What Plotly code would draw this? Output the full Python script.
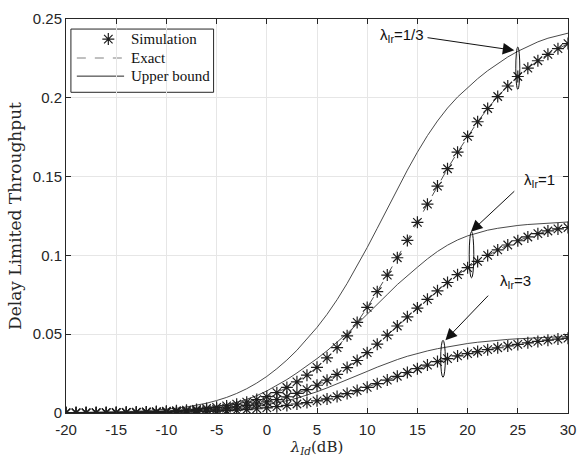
import plotly.graph_objects as go

# SNR axis (dB), one point per dB
snr_db = list(range(-20, 31))

# Simulated delay-limited throughput for each lambda_Ir
sim_lr_third = [0.0001, 0.0001, 0.0001, 0.0002, 0.0002, 0.0003, 0.0004, 0.0005, 0.0007, 0.0009,
                0.0011, 0.0014, 0.0018, 0.0023, 0.0029, 0.0036, 0.0045, 0.0056, 0.0069, 0.0085,
                0.0104, 0.0129, 0.0162, 0.0198, 0.0240, 0.0290, 0.0350, 0.0415, 0.0490, 0.0575,
                0.0670, 0.0770, 0.0875, 0.0985, 0.1095, 0.1210, 0.1325, 0.1440, 0.1550, 0.1655,
                0.1755, 0.1848, 0.1932, 0.2008, 0.2075, 0.2135, 0.2188, 0.2235, 0.2276, 0.2312,
                0.2344]
sim_lr_one = [0.0001, 0.0001, 0.0001, 0.0001, 0.0002, 0.0002, 0.0003, 0.0004, 0.0005, 0.0006,
              0.0008, 0.0010, 0.0013, 0.0016, 0.0020, 0.0025, 0.0031, 0.0038, 0.0047, 0.0058,
              0.0070, 0.0085, 0.0103, 0.0124, 0.0148, 0.0176, 0.0208, 0.0245, 0.0288, 0.0333,
              0.0383, 0.0437, 0.0494, 0.0552, 0.0610, 0.0666, 0.0721, 0.0775, 0.0828, 0.0878,
              0.0922, 0.0962, 0.1000, 0.1035, 0.1066, 0.1093, 0.1117, 0.1138, 0.1155, 0.1168,
              0.1177]
sim_lr_three = [0.0001, 0.0001, 0.0001, 0.0001, 0.0001, 0.0001, 0.0002, 0.0002, 0.0003, 0.0003,
                0.0004, 0.0005, 0.0006, 0.0008, 0.0010, 0.0012, 0.0015, 0.0018, 0.0022, 0.0027,
                0.0033, 0.0040, 0.0048, 0.0057, 0.0066, 0.0077, 0.0089, 0.0104, 0.0123, 0.0142,
                0.0163, 0.0186, 0.0209, 0.0233, 0.0257, 0.0281, 0.0304, 0.0326, 0.0345, 0.0362,
                0.0377, 0.0390, 0.0402, 0.0414, 0.0425, 0.0435, 0.0445, 0.0454, 0.0462, 0.0469,
                0.0475]

# Analytical upper bounds
ub_lr_third = [0.0002, 0.0003, 0.0003, 0.0004, 0.0005, 0.0007, 0.0009, 0.0011, 0.0014, 0.0018,
               0.0023, 0.0030, 0.0038, 0.0049, 0.0062, 0.0079, 0.0099, 0.0124, 0.0154, 0.0190,
               0.0232, 0.0281, 0.0336, 0.0398, 0.0467, 0.0543, 0.0626, 0.0719, 0.0822, 0.0933,
               0.1050, 0.1172, 0.1297, 0.1421, 0.1541, 0.1655, 0.1760, 0.1853, 0.1935, 0.2005,
               0.2065, 0.2121, 0.2172, 0.2218, 0.2259, 0.2295, 0.2327, 0.2355, 0.2378, 0.2396,
               0.2410]
ub_lr_one = [0.0001, 0.0001, 0.0002, 0.0002, 0.0003, 0.0003, 0.0004, 0.0005, 0.0007, 0.0009,
             0.0012, 0.0015, 0.0019, 0.0025, 0.0032, 0.0042, 0.0054, 0.0068, 0.0087, 0.0110,
             0.0140, 0.0174, 0.0212, 0.0254, 0.0298, 0.0345, 0.0395, 0.0449, 0.0505, 0.0564,
             0.0625, 0.0688, 0.0752, 0.0815, 0.0872, 0.0925, 0.0978, 0.1025, 0.1065, 0.1098,
             0.1124, 0.1144, 0.1160, 0.1172, 0.1182, 0.1190, 0.1196, 0.1201, 0.1205, 0.1209,
             0.1212]
ub_lr_three = [0.0001, 0.0001, 0.0001, 0.0001, 0.0001, 0.0002, 0.0002, 0.0003, 0.0003, 0.0004,
               0.0005, 0.0007, 0.0008, 0.0011, 0.0013, 0.0017, 0.0021, 0.0026, 0.0032, 0.0040,
               0.0052, 0.0064, 0.0078, 0.0094, 0.0113, 0.0135, 0.0159, 0.0184, 0.0210, 0.0237,
               0.0264, 0.0291, 0.0316, 0.0339, 0.0360, 0.0378, 0.0394, 0.0408, 0.0420, 0.0431,
               0.0441, 0.0449, 0.0456, 0.0462, 0.0467, 0.0471, 0.0475, 0.0478, 0.0481, 0.0483,
               0.0485]

x_ticks = [-20, -15, -10, -5, 0, 5, 10, 15, 20, 25, 30]
x_tick_text = ["-20", "-15", "-10", "-5", "0", "5", "10", "15", "20", "25", "30"]
y_ticks = [0, 0.05, 0.1, 0.15, 0.2, 0.25]
y_tick_text = ["0", "0.05", "0.1", "0.15", "0.2", "0.25"]

legend_labels = ["Simulation", "Exact", "Upper bound"]

series = [
    ("1/3", sim_lr_third, ub_lr_third),
    ("1", sim_lr_one, ub_lr_one),
    ("3", sim_lr_three, ub_lr_three),
]

INK = "#262626"
SERIF = "Liberation Serif, Times New Roman, serif"
WIDE_SERIF = "DejaVu Serif, serif"
SANS = "Liberation Sans, Arial, sans-serif"
STAR = dict(symbol="asterisk-open", size=10, color="#1e1e1e",
            line=dict(color="#1e1e1e", width=1.2))

fig = go.Figure()

for lab, sim, ub in series:
    fig.add_trace(go.Scatter(
        x=snr_db, y=ub, mode="lines", name="Upper bound (λIr=" + lab + ")",
        line=dict(color="#4a4a4a", width=1), showlegend=False))
for lab, sim, ub in series:
    fig.add_trace(go.Scatter(
        x=snr_db, y=sim, mode="lines", name="Exact (λIr=" + lab + ")",
        line=dict(color="#505050", width=1, dash="dash"), showlegend=False))
for lab, sim, ub in series:
    fig.add_trace(go.Scatter(
        x=snr_db, y=sim, mode="markers", name="Simulation (λIr=" + lab + ")",
        marker=STAR, showlegend=False))

# ellipses grouping each curve pair
ellipses = [(25.0, 0.2188, 0.2, 0.0134), (20.39, 0.1004, 0.23, 0.0146), (17.55, 0.0344, 0.23, 0.0117)]
for cx, cy, rx, ry in ellipses:
    fig.add_shape(type="circle", xref="x", yref="y",
                  x0=cx - rx, x1=cx + rx, y0=cy - ry, y1=cy + ry,
                  line=dict(color="#111111", width=1))

# curve labels and arrows
labels = [
    ("λ<sub>Ir</sub>=1/3", 15.9, 0.2395, "right"),
    ("λ<sub>Ir</sub>=1", 25.4, 0.1475, "left"),
    ("λ<sub>Ir</sub>=3", 23.0, 0.0835, "left"),
]
for txt, x, y, anchor in labels:
    fig.add_annotation(x=x, y=y, text=txt, showarrow=False, xanchor=anchor, yanchor="middle",
                       font=dict(family=SANS, size=15, color="#111111"))

arrows = [
    (15.86, 0.2383, 24.65, 0.2301),
    (24.8, 0.1416, 20.33, 0.1150),
    (22.19, 0.0754, 17.79, 0.0462),
]
for x0, y0, x1, y1 in arrows:
    fig.add_annotation(x=x1, y=y1, ax=x0, ay=y0, xref="x", yref="y", axref="x", ayref="y",
                       text="", showarrow=True, arrowhead=2, arrowsize=2.3, arrowwidth=1,
                       arrowcolor="#111111", standoff=0)

# boxed legend in the upper-left corner (paper coordinates of the plot area)
fig.add_shape(type="rect", xref="paper", yref="paper", x0=0.0098, x1=0.294, y0=0.814, y1=0.9745,
              line=dict(color=INK, width=1), fillcolor="white", layer="between")
row_y = [0.949, 0.901, 0.855]
fig.add_trace(go.Scatter(x=[0.0843], y=[row_y[0]], xaxis="x2", yaxis="y2", mode="markers",
                         marker=STAR, showlegend=False, hoverinfo="skip"))
fig.add_shape(type="line", xref="paper", yref="paper", x0=0.0216, x1=0.1157,
              y0=row_y[1], y1=row_y[1], line=dict(color="#808080", width=1, dash="dash"),
              layer="between")
fig.add_shape(type="line", xref="paper", yref="paper", x0=0.0216, x1=0.1157,
              y0=row_y[2], y1=row_y[2], line=dict(color=INK, width=1), layer="between")
for txt, yy in zip(legend_labels, row_y):
    fig.add_annotation(x=0.125, y=yy, xref="paper", yref="paper", text=txt, showarrow=False,
                       xanchor="left", yanchor="middle",
                       font=dict(family=SERIF, size=15, color="#111111"))

fig.update_xaxes(range=[-20, 30], tickvals=x_ticks, ticktext=x_tick_text, ticks="inside",
                 ticklen=5, tickcolor=INK, ticklabelstandoff=3,
                 showline=True, linecolor=INK, linewidth=1, mirror="ticks",
                 showgrid=True, gridcolor="#e6e6e6", gridwidth=1, zeroline=False,
                 tickfont=dict(family=SANS, size=15, color=INK),
                 title=dict(text="<i>λ<sub>Id</sub></i>(dB)", standoff=0,
                            font=dict(family=WIDE_SERIF, size=15, color=INK)))
fig.update_yaxes(range=[0, 0.25], tickvals=y_ticks, ticktext=y_tick_text, ticks="inside",
                 ticklen=5, tickcolor=INK,
                 showline=True, linecolor=INK, linewidth=1, mirror="ticks",
                 showgrid=True, gridcolor="#e6e6e6", gridwidth=1, zeroline=False,
                 tickfont=dict(family=SANS, size=15, color=INK),
                 title=dict(text="Delay Limited Throughput", standoff=6,
                            font=dict(family=WIDE_SERIF, size=17, color=INK)))

fig.update_layout(
    width=586, height=460,
    margin=dict(l=66, r=10, t=14, b=47),
    paper_bgcolor="white", plot_bgcolor="white",
    showlegend=False,
    xaxis2=dict(range=[0, 1], overlaying="x", visible=False, fixedrange=True),
    yaxis2=dict(range=[0, 1], overlaying="y", visible=False, fixedrange=True),
)

fig.write_html("out.html")
